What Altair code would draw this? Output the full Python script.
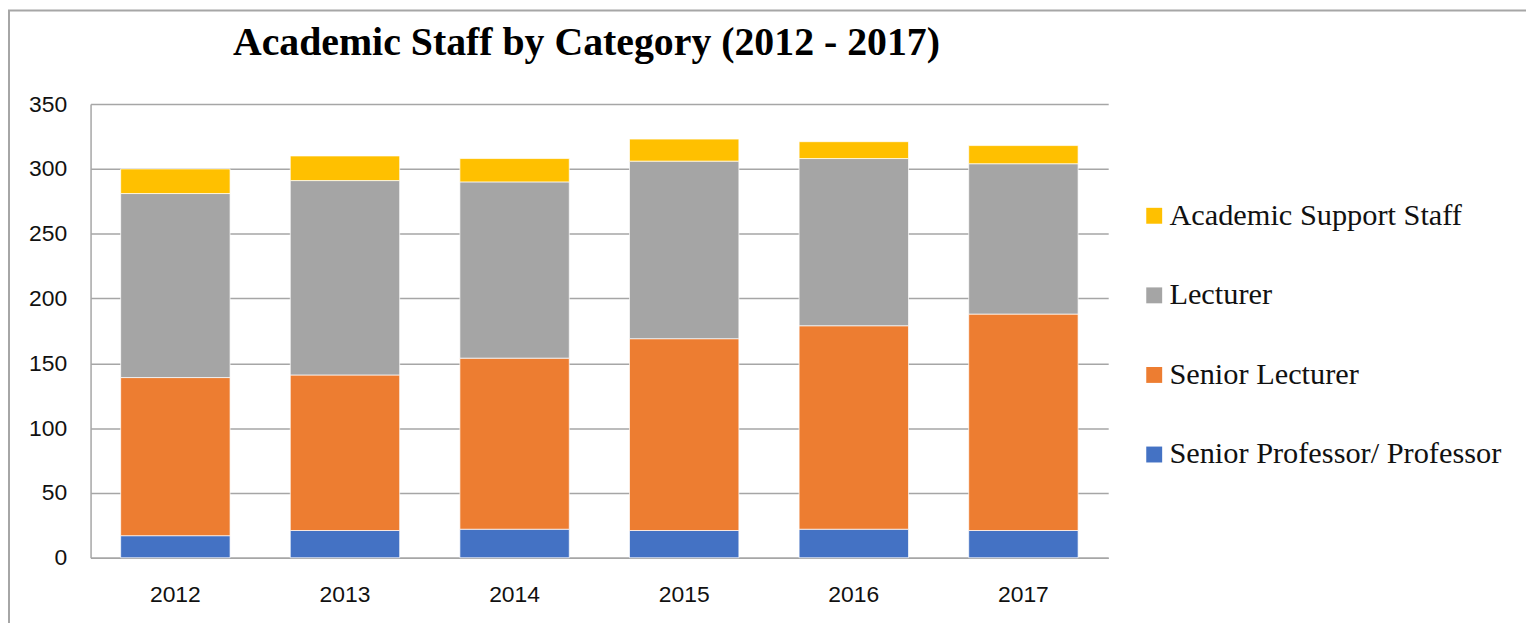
import altair as alt
import pandas as pd

years = ["2012", "2013", "2014", "2015", "2016", "2017"]
categories = ["Academic Support Staff", "Lecturer", "Senior Lecturer", "Senior Professor/ Professor"]
colors = ["#FFC000", "#A5A5A5", "#ED7D31", "#4472C4"]

professor = [17, 21, 22, 21, 22, 21]
senior_lecturer = [122, 120, 132, 148, 157, 167]
lecturer = [142, 150, 136, 137, 129, 116]
support = [19, 19, 18, 17, 13, 14]

series = {
    "Senior Professor/ Professor": professor,
    "Senior Lecturer": senior_lecturer,
    "Lecturer": lecturer,
    "Academic Support Staff": support,
}
stack_rank = {"Senior Professor/ Professor": 0, "Senior Lecturer": 1, "Lecturer": 2, "Academic Support Staff": 3}

rows = []
for cat, vals in series.items():
    for y, v in zip(years, vals):
        rows.append({"Year": y, "Category": cat, "Staff": v, "rank": stack_rank[cat]})
df = pd.DataFrame(rows)

bars = alt.Chart(df).mark_bar(stroke="white", strokeWidth=1, strokeOpacity=0.7).encode(
    x=alt.X("Year:N", sort=years,
            scale=alt.Scale(paddingInner=0.355, paddingOuter=0.1775),
            axis=alt.Axis(title=None, labelAngle=0, ticks=False, tickSize=0,
                          labelFont="Liberation Sans", labelFontSize=23, labelColor="#111111",
                          labelPadding=26, domainColor="#A6A6A6", domainWidth=1.5,
                          grid=False)),
    y=alt.Y("Staff:Q", stack="zero",
            scale=alt.Scale(domain=[0, 350], nice=False),
            axis=alt.Axis(title=None, values=list(range(0, 351, 50)), ticks=False, tickSize=0,
                          labelFont="Liberation Sans", labelFontSize=23, labelColor="#111111",
                          labelPadding=24, domainColor="#A6A6A6", domainWidth=1.5,
                          grid=True, gridColor="#A6A6A6", gridWidth=1.5)),
    color=alt.Color("Category:N",
                    scale=alt.Scale(domain=categories, range=colors),
                    legend=alt.Legend(title=None, orient="none", legendX=1054, legendY=97,
                                      symbolType="square", symbolSize=256, symbolStrokeWidth=0,
                                      labelFont="Liberation Serif", labelFontSize=30.5,
                                      labelColor="#111111", labelOffset=0, rowPadding=49,
                                      labelLimit=600)),
    order=alt.Order("rank:Q"),
)

border = alt.Chart(pd.DataFrame({"a": [0]})).mark_rect(
    fillOpacity=0, stroke="#A6A6A6", strokeWidth=2
).encode(
    x=alt.value(-82), x2=alt.value(1470), y=alt.value(-94), y2=alt.value(700)
)

chart = alt.layer(border, bars).properties(
    width=1023,
    height=456,
    autosize=alt.AutoSizeParams(type="none"),
    padding={"left": 83, "top": 95, "right": 420, "bottom": 64},
    title=alt.Title("Academic Staff by Category (2012 - 2017)",
                    font="Liberation Serif", fontSize=40, fontWeight="bold",
                    color="#000000", anchor="middle", dx=-13, offset=-86,
                    baseline="alphabetic"),
).configure_view(stroke=None)

chart.save("out.html", embed_options={"renderer": "svg", "actions": False})
